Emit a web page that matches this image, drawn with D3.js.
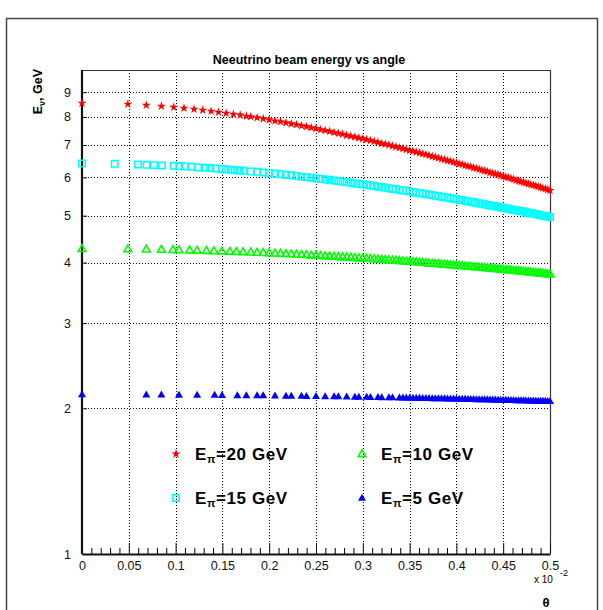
<!DOCTYPE html>
<html>
<head>
<meta charset="utf-8">
<title>Neeutrino beam energy vs angle</title>
<script src="https://cdn.jsdelivr.net/npm/d3@7"></script>
<style>
body { margin: 0; background: #fff; }
svg { display: block; font-family: "Liberation Sans", Arial, sans-serif; }
</style>
</head>
<body>
<svg id="chart"></svg>
<script>
// theta in units of 10^-2 rad, E_nu in GeV
// sparse points at small angle, read one by one for each beam
var red20HeadX  = [0, 0.049, 0.0687, 0.0848, 0.098, 0.109, 0.1197, 0.129, 0.138, 0.1458, 0.154, 0.1618, 0.169, 0.1756];
var red20HeadY  = [8.54, 8.50, 8.46, 8.42, 8.38, 8.34, 8.30, 8.26, 8.22, 8.18, 8.14, 8.10, 8.07, 8.03];
var cyan15HeadX = [0, 0.0349, 0.0598, 0.069, 0.077, 0.0855, 0.098, 0.104, 0.1097, 0.1168, 0.124, 0.132, 0.137, 0.1428, 0.1496, 0.1535, 0.159, 0.163, 0.168, 0.1727];
var cyan15HeadY = [6.41, 6.40, 6.38, 6.37, 6.36, 6.35, 6.34, 6.33, 6.32, 6.31, 6.29, 6.28, 6.27, 6.26, 6.24, 6.24, 6.22, 6.21, 6.20, 6.19];
var green10HeadX = [0, 0.049, 0.0687, 0.0848, 0.0972, 0.1036, 0.115, 0.123, 0.133, 0.141, 0.1496, 0.158, 0.165, 0.172];
var green10HeadY = [4.270, 4.265, 4.260, 4.254, 4.249, 4.247, 4.241, 4.237, 4.232, 4.227, 4.221, 4.216, 4.211, 4.206];
var blue5HeadX  = [0, 0.0687, 0.0848, 0.1036, 0.123, 0.1417, 0.1496, 0.166, 0.1756];
var blue5HeadY  = [2.135, 2.134, 2.133, 2.132, 2.131, 2.130, 2.129, 2.127, 2.127];

// dense part, shared angles
var thetaDense = [0.1803, 0.1871, 0.1936, 0.2, 0.2062, 0.2121, 0.2179, 0.2236, 0.2291, 0.2345,
  0.2398, 0.2449, 0.25, 0.255, 0.2598, 0.2646, 0.2693, 0.2739, 0.2784, 0.2828,
  0.2872, 0.2915, 0.2958, 0.3, 0.3041, 0.3082, 0.3122, 0.3162, 0.3202, 0.324,
  0.3279, 0.3317, 0.3354, 0.3391, 0.3428, 0.3464, 0.35, 0.3536, 0.3571, 0.3606,
  0.364, 0.3674, 0.3708, 0.3742, 0.3775, 0.3808, 0.3841, 0.3873, 0.3905, 0.3937,
  0.3969, 0.4, 0.4031, 0.4062, 0.4093, 0.4123, 0.4153, 0.4183, 0.4213, 0.4243,
  0.4272, 0.4301, 0.433, 0.4359, 0.4387, 0.4416, 0.4444, 0.4472, 0.45, 0.4528,
  0.4555, 0.4583, 0.461, 0.4637, 0.4664, 0.469, 0.4717, 0.4743, 0.477, 0.4796,
  0.4822, 0.4848, 0.4873, 0.4899, 0.4924, 0.495, 0.4975, 0.5];
var red20Dense = [8.01, 7.97, 7.93, 7.89, 7.85, 7.82, 7.78, 7.74, 7.71, 7.67,
  7.64, 7.60, 7.57, 7.53, 7.50, 7.47, 7.43, 7.40, 7.37, 7.33,
  7.30, 7.27, 7.24, 7.21, 7.18, 7.15, 7.12, 7.09, 7.05, 7.03,
  7.00, 6.97, 6.94, 6.91, 6.88, 6.85, 6.82, 6.80, 6.77, 6.74,
  6.71, 6.69, 6.66, 6.63, 6.61, 6.58, 6.55, 6.53, 6.50, 6.48,
  6.45, 6.43, 6.40, 6.38, 6.35, 6.33, 6.31, 6.28, 6.26, 6.24,
  6.21, 6.19, 6.17, 6.14, 6.12, 6.10, 6.08, 6.05, 6.03, 6.01,
  5.99, 5.97, 5.95, 5.92, 5.90, 5.88, 5.86, 5.84, 5.82, 5.80,
  5.78, 5.76, 5.74, 5.72, 5.70, 5.68, 5.66, 5.64];
var cyan15Dense = [6.17, 6.16, 6.14, 6.12, 6.11, 6.09, 6.07, 6.06, 6.04, 6.02,
  6.01, 5.99, 5.97, 5.96, 5.94, 5.93, 5.91, 5.89, 5.88, 5.86,
  5.85, 5.83, 5.82, 5.80, 5.79, 5.77, 5.76, 5.74, 5.73, 5.71,
  5.70, 5.68, 5.67, 5.65, 5.64, 5.63, 5.61, 5.60, 5.58, 5.57,
  5.56, 5.54, 5.53, 5.51, 5.50, 5.49, 5.47, 5.46, 5.45, 5.43,
  5.42, 5.41, 5.39, 5.38, 5.37, 5.35, 5.34, 5.33, 5.32, 5.30,
  5.29, 5.28, 5.26, 5.25, 5.24, 5.23, 5.22, 5.20, 5.19, 5.18,
  5.17, 5.15, 5.14, 5.13, 5.12, 5.11, 5.10, 5.08, 5.07, 5.06,
  5.05, 5.04, 5.03, 5.01, 5.00, 4.99, 4.98, 4.97];
var green10Dense = [4.200, 4.195, 4.189, 4.184, 4.179, 4.174, 4.168, 4.163, 4.158, 4.153,
  4.148, 4.142, 4.137, 4.132, 4.127, 4.122, 4.117, 4.112, 4.107, 4.102,
  4.097, 4.091, 4.086, 4.081, 4.077, 4.072, 4.067, 4.062, 4.057, 4.052,
  4.047, 4.042, 4.037, 4.032, 4.027, 4.022, 4.017, 4.013, 4.008, 4.003,
  3.998, 3.993, 3.988, 3.984, 3.979, 3.974, 3.969, 3.965, 3.960, 3.955,
  3.951, 3.946, 3.941, 3.937, 3.932, 3.927, 3.923, 3.918, 3.913, 3.909,
  3.904, 3.900, 3.895, 3.891, 3.886, 3.882, 3.877, 3.872, 3.868, 3.863,
  3.859, 3.855, 3.850, 3.846, 3.841, 3.837, 3.832, 3.828, 3.824, 3.819,
  3.815, 3.810, 3.806, 3.802, 3.797, 3.793, 3.789, 3.784];
// null = no entry at that angle
var blue5Dense = [null, 2.125, 2.125, null, 2.123, null, 2.122, 2.121, null, 2.120,
  2.119, null, 2.118, null, 2.117, null, 2.115, 2.115, null, 2.113,
  null, 2.112, 2.111, null, 2.110, 2.109, null, 2.108, 2.107, null,
  2.106, 2.105, null, 2.104, 2.103, 2.103, 2.102, 2.101, 2.101, 2.100,
  2.099, 2.099, 2.098, 2.097, 2.097, 2.096, 2.095, 2.095, 2.094, 2.093,
  2.093, 2.092, 2.091, 2.091, 2.090, 2.089, 2.089, 2.088, 2.087, 2.087,
  2.086, 2.085, 2.085, 2.084, 2.083, 2.083, 2.082, 2.081, 2.081, 2.080,
  2.079, 2.079, 2.078, 2.077, 2.077, 2.076, 2.076, 2.075, 2.074, 2.074,
  2.073, 2.072, 2.072, 2.071, 2.071, 2.070, 2.069, 2.069];

var yTicks = [1, 2, 3, 4, 5, 6, 7, 8, 9];
var xTicks = [0, 0.05, 0.1, 0.15, 0.2, 0.25, 0.3, 0.35, 0.4, 0.45, 0.5];
var legendLabels = ["20", "15", "10", "5"];

var W = 603, H = 610;
var L = 82, R = 550, T = 70, B = 554;

var svg = d3.select("#chart").attr("width", W).attr("height", H);

// outer pad frame
svg.append("rect").attr("x", 6.5).attr("y", 18.5).attr("width", 591).attr("height", 620)
  .attr("fill", "none").attr("stroke", "#444").attr("stroke-width", 1.5);

var x = d3.scaleLinear().domain([0, 0.5]).range([L, R]);
var y = d3.scaleLog().domain([1, 10]).range([B, T]);

// grid
var grid = svg.append("g").attr("stroke", "#000").attr("stroke-width", 1).attr("stroke-dasharray", "1,2");
grid.selectAll(".gx").data(xTicks.slice(1, -1)).enter().append("line")
  .attr("x1", function(d) { return Math.round(x(d)) + 0.5; })
  .attr("x2", function(d) { return Math.round(x(d)) + 0.5; })
  .attr("y1", T).attr("y2", B);
grid.selectAll(".gy").data(yTicks.slice(1)).enter().append("line")
  .attr("y1", function(d) { return Math.round(y(d)) + 0.5; })
  .attr("y2", function(d) { return Math.round(y(d)) + 0.5; })
  .attr("x1", L).attr("x2", R);

// frame top/right
svg.append("path").attr("d", "M" + L + "," + (T + 0.5) + "H" + (R + 0.5) + "V" + B)
  .attr("fill", "none").attr("stroke", "#333").attr("stroke-width", 1.2);

// axes
var xAxis = d3.axisBottom(x).tickValues(xTicks).tickSizeInner(-11).tickSizeOuter(0).tickPadding(7)
  .tickFormat(function(d) { return d === 0 ? "0" : String(d); });
var gx = svg.append("g").attr("transform", "translate(0," + B + ")").call(xAxis);
var minor = d3.range(0, 51).map(function(i) { return i / 100; }).filter(function(i, k) { return k % 5 !== 0; });
svg.append("g").attr("transform", "translate(0," + B + ")")
  .call(d3.axisBottom(x).tickValues(minor).tickSizeInner(-6).tickSizeOuter(0).tickFormat(""))
  .select(".domain").remove();

var yAxis = d3.axisLeft(y).tickValues(yTicks).tickSizeInner(-5).tickSizeOuter(0).tickPadding(11)
  .tickFormat(d3.format("d"));
var gy = svg.append("g").attr("transform", "translate(" + L + ",0)").call(yAxis);

[gx, gy].forEach(function(g) {
  g.select(".domain").attr("stroke", "#111").attr("stroke-width", 2.2);
  g.selectAll(".tick line").attr("stroke", "#111");
  g.selectAll("text").attr("font-size", 12.5).attr("font-family", "Liberation Sans, Arial, sans-serif").attr("fill", "#111");
});
gy.select(".domain").attr("d", "M0," + B + "V" + T);

// series
var series = [
  { hx: red20HeadX, hy: red20HeadY, dense: red20Dense, kind: "star", color: "#ff0000" },
  { hx: cyan15HeadX, hy: cyan15HeadY, dense: cyan15Dense, kind: "square", color: "#00ffff" },
  { hx: green10HeadX, hy: green10HeadY, dense: green10Dense, kind: "otri", color: "#00ff00" },
  { hx: blue5HeadX, hy: blue5HeadY, dense: blue5Dense, kind: "ftri", color: "#0000ff" }
];

function marker(sel, kind, color) {
  if (kind === "star") {
    sel.attr("d", d3.symbol(d3.symbolStar, 26)).attr("fill", color).attr("stroke", "none");
  } else if (kind === "square") {
    sel.attr("d", "M-3.2,-3.2H3.2V3.2H-3.2Z").attr("fill", "none").attr("stroke", color).attr("stroke-width", 1.6);
  } else if (kind === "otri") {
    sel.attr("d", "M0,-4.2L3.9,2.6H-3.9Z").attr("fill", "none").attr("stroke", color).attr("stroke-width", 1.6);
  } else {
    sel.attr("d", "M0,-4.2L4,2.8H-4Z").attr("fill", color).attr("stroke", "none");
  }
}

var pts = svg.append("g");
series.forEach(function(s) {
  var data = s.hx.map(function(v, i) { return [v, s.hy[i]]; });
  thetaDense.forEach(function(v, i) { if (s.dense[i] != null) data.push([v, s.dense[i]]); });
  pts.append("g").selectAll("path").data(data).enter().append("path")
    .attr("transform", function(d) { return "translate(" + x(d[0]) + "," + y(d[1]) + ")"; })
    .call(marker, s.kind, s.color);
});

// legend
var lg = svg.append("g").attr("font-weight", "bold").attr("font-size", 17).attr("fill", "#000");
var legPos = [[176, 460], [176, 504], [362, 460], [362, 504]];
series.forEach(function(s, i) {
  var p = legPos[i];
  lg.append("path").attr("transform", "translate(" + p[0] + "," + (p[1] - 6) + ")").call(marker, s.kind, s.color);
  var t = lg.append("text").attr("x", p[0] + 19).attr("y", p[1]).attr("letter-spacing", 0.6);
  t.append("tspan").text("E");
  t.append("tspan").attr("font-size", 11).attr("dy", 3).text("\u03c0");
  t.append("tspan").attr("dy", -3).text("=" + legendLabels[i] + " GeV");
});

// titles
svg.append("text").attr("x", 309).attr("y", 64).attr("text-anchor", "middle")
  .attr("font-weight", "bold").attr("font-size", 12.5).text("Neeutrino beam energy vs angle");

var yt = svg.append("text").attr("transform", "translate(42,69) rotate(-90)").attr("text-anchor", "end")
  .attr("font-weight", "bold").attr("font-size", 12.5);
yt.append("tspan").text("E");
yt.append("tspan").attr("font-size", 9).attr("dy", 3).text("\u03bd");
yt.append("tspan").attr("dy", -3).text(", GeV");

svg.append("text").attr("x", 534).attr("y", 583).attr("font-size", 10).text("x 10");
svg.append("text").attr("x", 560).attr("y", 576).attr("font-size", 9).text("-2");
svg.append("text").attr("x", 546).attr("y", 607).attr("text-anchor", "middle")
  .attr("font-weight", "bold").attr("font-size", 13).text("\u03b8");
</script>
</body>
</html>
